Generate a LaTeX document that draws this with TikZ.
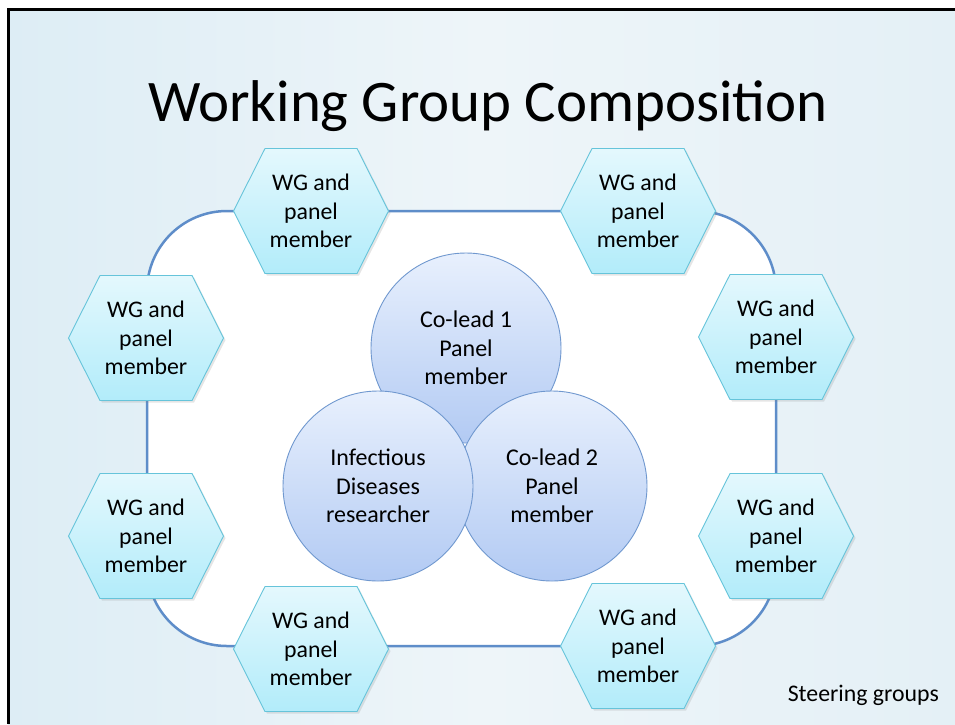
\documentclass[tikz,border=0pt]{standalone}
\usepackage{fontspec}
\setmainfont{Carlito}
\usetikzlibrary{shadows}

\definecolor{bgLeft}{HTML}{DDEDF5}
\definecolor{bgMid}{HTML}{EEF5F9}
\definecolor{bgRight}{HTML}{E4F0F6}
\definecolor{ringBlue}{HTML}{5E8DC9}
\definecolor{hexTop}{HTML}{E4F8FD}
\definecolor{hexBot}{HTML}{B2ECFA}
\definecolor{hexLine}{HTML}{66C4DA}
\definecolor{discTop}{HTML}{E8F0FD}
\definecolor{discBot}{HTML}{B2CAF3}
\definecolor{discLine}{HTML}{7098CF}

\tikzset{
  ring/.style={draw=ringBlue, line width=2.5pt, fill=white, rounded corners=80pt},
  hexshape/.style={top color=hexTop, bottom color=hexBot, draw=hexLine, line width=0.9pt,
    drop shadow={opacity=0.2, shadow xshift=2pt, shadow yshift=-2pt}},
  hextext/.style={align=center, inner sep=0pt, font=\fontsize{23.8}{28.5}\selectfont},
  disc/.style={circle, minimum size=190pt, inner sep=0pt, top color=discTop, bottom color=discBot,
    draw=discLine, line width=0.9pt, align=center, font=\fontsize{24}{28.5}\selectfont},
  title/.style={font=\fontsize{58.9}{62}\selectfont, inner sep=0pt, anchor=base},
  caption/.style={font=\fontsize{23.8}{26}\selectfont, inner sep=0pt, anchor=base east}
}

% flat-topped hexagon with its label: name, centre
\newcommand\hexnode[2]{%
  \path[hexshape] (#2) ++(-77.5,0) -- ++(31.5,-62.5) -- ++(92,0) -- ++(31.5,62.5)
    -- ++(-31.5,62.5) -- ++(-92,0) -- cycle;
  \node[hextext] (#1) at (#2) {WG and\\panel\\member};
}

\begin{document}
\begin{tikzpicture}[x=1pt, y=-1pt]
  \useasboundingbox (0,0) rectangle (955,724);
  \fill[white] (0,0) rectangle (955,724);

  % slide background and frame
  \shade[left color=bgLeft, right color=bgRight, middle color=bgMid] (8,9) rectangle (955,724);
  \draw[black, line width=3pt] (8,724) -- (8,9) -- (955,9);

  % title
  \node[title] (title) at (488,121) {Working Group Composition};

  % rounded ring joining the working group members
  \draw[ring] (147,211) rectangle (776,646);

  % working group members
  \hexnode{hTL}{311,211}
  \hexnode{hTR}{638,211}
  \hexnode{hLU}{146,338}
  \hexnode{hLL}{146,536}
  \hexnode{hRU}{776,337}
  \hexnode{hRL}{776,536}
  \hexnode{hBL}{311,649}
  \hexnode{hBR}{638,646}

  % leadership core
  \node[disc] (lead1) at (466,348) {Co-lead 1\\Panel\\member};
  \node[disc] (lead2) at (552,486) {Co-lead 2\\Panel\\member};
  \node[disc] (idr) at (378,486) {Infectious\\Diseases\\researcher};

  \node[caption] (steer) at (939,701) {Steering groups};
\end{tikzpicture}
\end{document}
